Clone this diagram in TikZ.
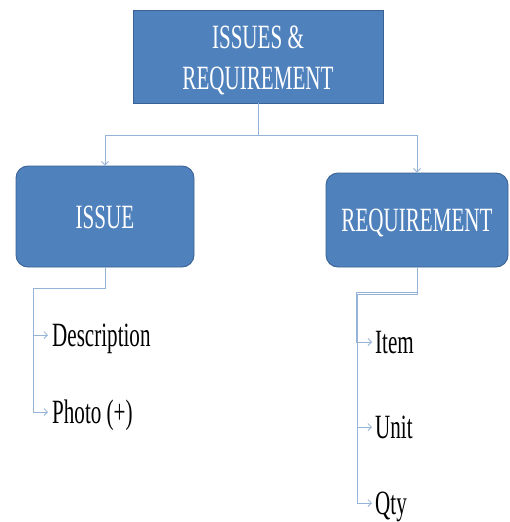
\documentclass[tikz,border=0pt]{standalone}
\usepackage{fontspec}
\usetikzlibrary{arrows.meta,calc}
% narrow Times-like face used for every label
\newfontfamily\condfont[FakeStretch=0.62]{Liberation Serif}
\definecolor{boxfill}{HTML}{4F81BD}
\definecolor{boxline}{HTML}{3B6294}
\definecolor{linkblue}{HTML}{95B3D7}
\tikzset{
  bigfont/.style={font=\condfont\fontsize{34}{41}\selectfont},
  box/.style={draw=boxline, line width=0.9pt, fill=boxfill, text=white,
    align=center, inner sep=0pt, bigfont},
  roundbox/.style={box, rounded corners=12pt, text height=23pt, text depth=0pt},
  boxtext/.style={text=white, align=center, inner sep=0pt, bigfont},
  leaf/.style={anchor=west, inner sep=0pt, text height=23pt, text depth=0pt, bigfont},
  conn/.style={draw=linkblue, line width=0.8pt},
  tip/.style={conn, -{Straight Barb[length=3.5pt,width=7pt,line width=0.8pt]}},
}
\begin{document}
\begin{tikzpicture}[x=1pt,y=-1pt]
\useasboundingbox (0,0) rectangle (509,522);

% boxes
\node[box, minimum width=250pt, minimum height=93pt] (root) at (258,56.5) {};
\node[boxtext] (roottext) at ($(root.center)+(0,3.5)$) {ISSUES \&\\REQUIREMENT};
\node[roundbox, minimum width=178pt, minimum height=101pt] (issue) at (105,216.5) {ISSUE};
\node[roundbox, minimum width=182pt, minimum height=94pt] (req) at (417,220) {REQUIREMENT};

% leaf labels
\node[leaf] (desc)  at (52,335)  {Description};
\node[leaf] (photo) at (52,412)  {Photo (+)};
\node[leaf] (item)  at (375,342) {Item};
\node[leaf] (unit)  at (375,427) {Unit};
\node[leaf] (qty)   at (375,503) {Qty};

% bend points of the connectors
\coordinate (bus)    at (258,135);
\coordinate (ispine) at (33,288);
\coordinate (rspine) at (356,292.5);
\coordinate (rspineb) at (357.6,294.2);

% root to the two branches
\draw[tip] (root.south) -- (root.south |- bus) -| (issue.north);
\draw[tip] (root.south) -- (root.south |- bus) -| (req.north);

% issue branch
\draw[tip, shorten >=4pt] (issue.south) |- (ispine) |- (desc.west);
\draw[tip, shorten >=4pt] (issue.south) |- (ispine) |- (photo.west);

% requirement branch
\draw[tip, shorten >=3pt] (req.south) |- (rspine) |- (item.west);
\draw[tip, shorten >=3pt] (req.south) |- (rspineb) |- (unit.west);
\draw[tip, shorten >=3pt] (req.south) |- (rspineb) |- (qty.west);
\end{tikzpicture}
\end{document}
